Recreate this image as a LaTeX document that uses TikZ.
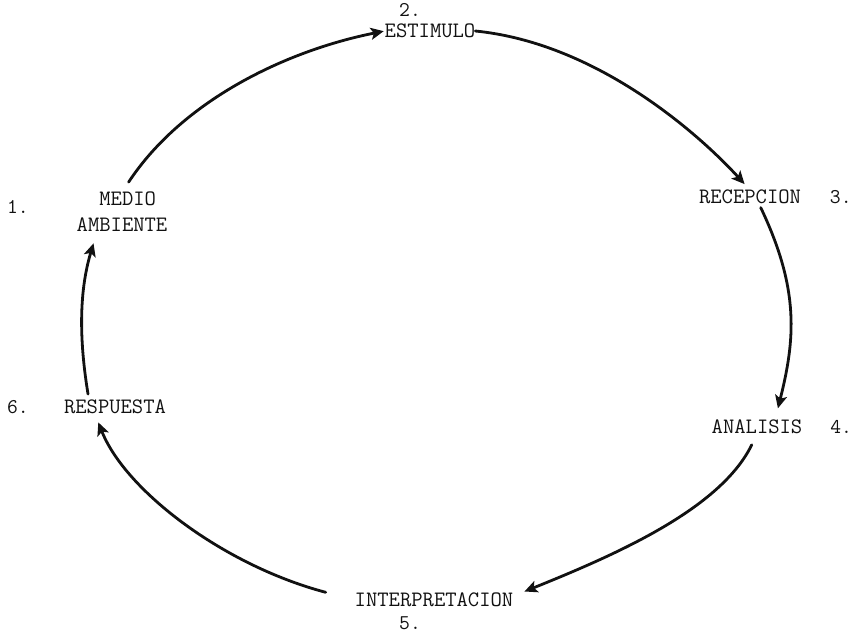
\documentclass[tikz,border=0pt]{standalone}
\usepackage{tikz}
\usetikzlibrary{
arrows.meta,
positioning
}
\definecolor{CicloInk}{HTML}{111111}
\tikzset{
cicloetiq/.style={inner sep=0pt, outer sep=0pt, text=CicloInk,
  font=\ttfamily\fontsize{22}{26}\selectfont},
ciclonum/.style={inner sep=0pt, outer sep=0pt, text=CicloInk,
  font=\ttfamily\fontsize{21}{26}\selectfont},
cicloflecha/.style={-{Stealth[length=13pt, width=12pt, inset=3pt]},
  line width=2.8pt, draw=CicloInk, line cap=round}
}

\begin{document}
\begin{tikzpicture}[x=1pt, y=-1pt]
\useasboundingbox (0,0) rectangle (857,634);

\node[cicloetiq] (estim) at (430,31) {ESTIMULO};
\node[ciclonum] (n2) at (410,10) {2.};
\node[cicloetiq, align=left] (medio) at (122,212) {\hphantom{AM}MEDIO\\AMBIENTE};
\node[ciclonum] (n1) at (18,207) {1.};
\node[cicloetiq] (recep) at (750,197) {RECEPCION};
\node[ciclonum, right=29pt of recep] (n3) {3.};
\node[cicloetiq] (anal) at (757,427) {ANALISIS};
\node[ciclonum, right=28pt of anal] (n4) {4.};
\node[cicloetiq] (interp) at (434,600) {INTERPRETACION};
\node[ciclonum] (n5) at (410,623) {5.};
\node[cicloetiq] (resp) at (115,407) {RESPUESTA};
\node[ciclonum] (n6) at (18,407) {6.};

\draw[cicloflecha, shorten <=12pt, shorten >=1pt] (medio.north)
  .. controls +(60,-91) and +(-100,20) .. (estim.west);
\draw[cicloflecha, shorten >=8pt] (estim.east)
  .. controls +(120,12) and +(-53,-58) .. (recep.north);
\draw[cicloflecha, shorten <=4pt, shorten >=12pt] ([xshift=9pt]recep.south)
  .. controls +(41,86) and +(20,-80) .. ([xshift=18pt]anal.north);
\draw[cicloflecha, shorten <=12pt, shorten >=12pt] (anal.south)
  .. controls +(-37,76) and +(99,-40) .. ([yshift=4pt]interp.east);
\draw[cicloflecha, shorten <=30pt, shorten >=9pt] (interp.west)
  .. controls +(-132,-35) and +(30,76) .. ([xshift=-20pt]resp.south);
\draw[cicloflecha, shorten <=6pt, shorten >=12pt] ([xshift=-26pt]resp.north)
  .. controls +(-9,-55) and +(-19,63) .. ([xshift=-25pt]medio.south);
\end{tikzpicture}
\end{document}
